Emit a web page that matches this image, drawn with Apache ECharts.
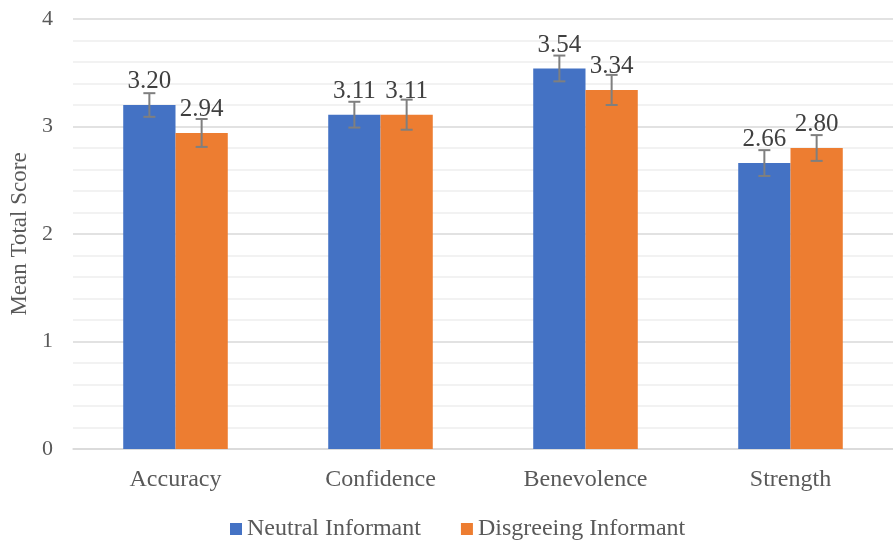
<!DOCTYPE html>
<html>
<head>
<meta charset="utf-8">
<script src="https://cdn.jsdelivr.net/npm/echarts@6/dist/echarts.min.js"></script>
<style>
  html, body { margin: 0; padding: 0; background: #fff; }
  #chart { width: 893px; height: 542px; }
</style>
</head>
<body>
<div id="chart"></div>
<script>
// categories and values
const categories = ['Accuracy', 'Confidence', 'Benevolence', 'Strength'];
const neutralMeans = [3.20, 3.11, 3.54, 2.66];
const disagreeMeans = [2.94, 3.11, 3.34, 2.80];
// half length of each error bar
const neutralErr = [0.11, 0.12, 0.12, 0.12];
const disagreeErr = [0.13, 0.14, 0.14, 0.12];
const yTicks = [0, 1, 2, 3, 4];

const FONT = '"Liberation Serif", "Times New Roman", serif';
const BAR_CAT_GAP = 0.49;

function errData(means, errs) {
  return means.map((m, i) => [i, m - errs[i], m + errs[i]]);
}

function errRender(side) {
  return function (params, api) {
    const c = api.coord([api.value(0), api.value(1)]);
    const top = api.coord([api.value(0), api.value(2)]);
    const band = api.size([1, 0])[0];
    const barW = band * (1 - BAR_CAT_GAP) / 2;
    const x = c[0] + side * barW / 2;
    const cap = 6;
    const style = { stroke: '#7f7f7f', lineWidth: 2 };
    return {
      type: 'group',
      children: [
        { type: 'line', shape: { x1: x, y1: c[1], x2: x, y2: top[1] }, style: style },
        { type: 'line', shape: { x1: x - cap, y1: c[1], x2: x + cap, y2: c[1] }, style: style },
        { type: 'line', shape: { x1: x - cap, y1: top[1], x2: x + cap, y2: top[1] }, style: style }
      ]
    };
  };
}

const myEcharts = echarts.init(document.getElementById('chart'));
const labelStyle = {
  show: true,
  position: 'top',
  distance: 11,
  color: '#404040',
  fontSize: 25,
  fontFamily: FONT,
  formatter: p => p.value.toFixed(2)
};

const option = {
  animation: false,
  textStyle: { fontFamily: FONT },
  grid: { left: 73, right: 0, top: 19, bottom: 93, outerBoundsMode: 'none', containLabel: false },
  legend: {
    top: 512,
    left: 225,
    itemWidth: 12,
    itemHeight: 12,
    itemGap: 40,
    icon: 'rect',
    textStyle: { color: '#595959', fontSize: 24, fontFamily: FONT },
    data: ['Neutral Informant', 'Disgreeing Informant']
  },
  xAxis: {
    type: 'category',
    data: categories,
    axisLine: { lineStyle: { color: '#d9d9d9', width: 1.5 } },
    axisTick: { show: false },
    axisLabel: { color: '#595959', fontSize: 24, fontFamily: FONT, margin: 19 }
  },
  yAxis: {
    type: 'value',
    min: yTicks[0],
    max: yTicks[yTicks.length - 1],
    interval: 1,
    name: 'Mean Total Score',
    nameLocation: 'middle',
    nameGap: 40,
    nameTextStyle: { color: '#595959', fontSize: 23, fontFamily: FONT },
    axisLine: { show: false },
    axisTick: { show: false },
    axisLabel: { color: '#595959', fontSize: 22, fontFamily: FONT, margin: 20 },
    splitLine: { lineStyle: { color: '#d9d9d9', width: 1.5 } },
    minorTick: { show: false, splitNumber: 5 },
    minorSplitLine: { show: true, lineStyle: { color: '#eeeeee', width: 1.5 } }
  },
  series: [
    {
      name: 'Neutral Informant',
      type: 'bar',
      data: neutralMeans,
      barGap: 0,
      barCategoryGap: (BAR_CAT_GAP * 100) + '%',
      itemStyle: { color: '#4472C4' },
      label: labelStyle
    },
    {
      name: 'Disgreeing Informant',
      type: 'bar',
      data: disagreeMeans,
      barGap: 0,
      barCategoryGap: (BAR_CAT_GAP * 100) + '%',
      itemStyle: { color: '#ED7D31' },
      label: labelStyle
    },
    {
      type: 'custom',
      name: 'errN',
      renderItem: errRender(-1),
      data: errData(neutralMeans, neutralErr),
      encode: { x: 0, y: [1, 2] },
      z: 10
    },
    {
      type: 'custom',
      name: 'errD',
      renderItem: errRender(1),
      data: errData(disagreeMeans, disagreeErr),
      encode: { x: 0, y: [1, 2] },
      z: 10
    }
  ]
};

option && myEcharts.setOption(option);
</script>
</body>
</html>
